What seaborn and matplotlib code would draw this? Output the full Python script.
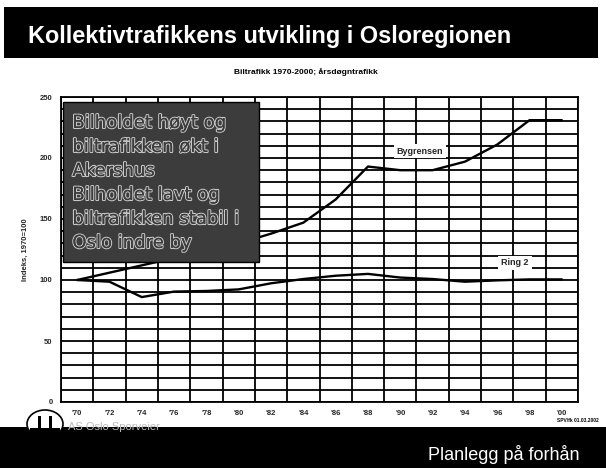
import numpy as np
import pandas as pd
import matplotlib
matplotlib.use("Agg")
import matplotlib.pyplot as plt
import matplotlib.patheffects as pe
from matplotlib.patches import Rectangle, Ellipse
import seaborn as sns

years = ["'70", "'72", "'74", "'76", "'78", "'80", "'82", "'84",
         "'86", "'88", "'90", "'92", "'94", "'96", "'98", "'00"]
bygrensen = [100, 106, 112, 118, 124, 130, 138, 147, 166, 193, 190, 190, 197, 211, 231, 231]
ring2 = [100, 98.6, 86, 90.5, 91, 92.3, 97.3, 100.8, 103.5, 105, 102, 100.8, 98.6, 99.7, 100.5, 100.5]
series_names = ["Bygrensen", "Ring 2"]
yticks = [0, 50, 100, 150, 200, 250]

df = pd.DataFrame({
    "year": years * 2,
    "value": bygrensen + ring2,
    "series": [series_names[0]] * len(years) + [series_names[1]] * len(years),
})

sns.set_theme(style="white")
plt.rcParams["font.family"] = ["Liberation Sans", "DejaVu Sans"]

W, H = 606, 468
fig = plt.figure(figsize=(W / 100, H / 100), dpi=100)
fig.patch.set_facecolor("white")

# top title band
fig.add_artist(Rectangle((4 / W, 1 - 58 / H), 594 / W, 51 / H, transform=fig.transFigure,
                         facecolor="black", edgecolor="none", zorder=0))
fig.text(28 / W, 1 - 37 / H, "Kollektivtrafikkens utvikling i Osloregionen",
         color="white", fontsize=16.9, fontweight="bold", va="center", ha="left")
fig.text(306 / W, 1 - 72 / H, "Biltrafikk 1970-2000; årsdøgntrafikk",
         color="black", fontsize=6, fontweight="bold", va="center", ha="center")

# bottom band
fig.add_artist(Rectangle((0, 0), 1, 41 / H, transform=fig.transFigure,
                         facecolor="black", edgecolor="none", zorder=0))
fig.text(428 / W, 1 - 454 / H, "Planlegg på forhån", color="white", fontsize=13,
         va="center", ha="left")
fig.text(68 / W, 1 - 427 / H, "AS Oslo Sporveier", color="#bbbbbb", fontsize=8,
         va="center", ha="left")
fig.add_artist(Ellipse((45 / W, 1 - 424 / H), 36 / W, 28 / H, transform=fig.transFigure,
                       facecolor="white", edgecolor="black", lw=1.2, zorder=1))
fig.add_artist(Rectangle((30 / W, 1 - 438 / H), 30 / W, 10 / H, transform=fig.transFigure,
                         facecolor="black", edgecolor="none", zorder=2))
fig.add_artist(Rectangle((38 / W, 1 - 428 / H), 3 / W, 12 / H, transform=fig.transFigure,
                         facecolor="black", edgecolor="none", zorder=2))
fig.add_artist(Rectangle((49 / W, 1 - 428 / H), 3 / W, 12 / H, transform=fig.transFigure,
                         facecolor="black", edgecolor="none", zorder=2))
fig.text(557 / W, 1 - 420 / H, "SPV/fk 01.03.2002", color="black", fontsize=3.5,
         fontweight="bold", va="center", ha="left")

ax = fig.add_axes([61 / W, 1 - 402 / H, 517 / W, 305 / H])
sns.lineplot(data=df, x="year", y="value", hue="series", sort=False,
             palette=["black", "black"], linewidth=1.7, legend=False, ax=ax, zorder=3)

ax.set_xlim(-0.5, len(years) - 0.5)
ax.set_ylim(0, 250)
ax.set_xticks(range(len(years)))
ax.set_xticklabels(years, fontsize=5.5, fontweight="bold")
ax.set_xticks(np.arange(-0.5, len(years), 1), minor=True)
ax.set_yticks(yticks)
ax.set_yticklabels([str(v) for v in yticks], fontsize=5.5, fontweight="bold")
ax.set_yticks(np.arange(0, 251, 10), minor=True)
ax.tick_params(axis="x", which="major", length=0, pad=6)
ax.tick_params(axis="x", which="minor", length=3, width=1, color="black", direction="out")
ax.tick_params(axis="y", which="major", length=3, width=1, color="black", pad=3)
ax.tick_params(axis="y", which="minor", length=3, width=1, color="black")
ax.grid(False)
ax.grid(True, axis="x", which="minor", color="black", linewidth=1.3)
ax.grid(True, axis="y", which="both", color="black", linewidth=1.3)
ax.set_axisbelow(True)
for s in ax.spines.values():
    s.set_color("black")
    s.set_linewidth(1.3)
ax.set_xlabel("")
ax.set_ylabel("Indeks, 1970=100", fontsize=5.5, fontweight="bold", labelpad=8)

# series labels
ax.text(10.6, 205.7, series_names[0], fontsize=6.5, fontweight="bold", ha="center", va="center",
        bbox=dict(facecolor="white", edgecolor="none", pad=2), zorder=4)
ax.text(13.55, 114, series_names[1], fontsize=6.5, fontweight="bold", ha="center", va="center",
        bbox=dict(facecolor="white", edgecolor="none", pad=2), zorder=4)

# overlay text box
ax.add_patch(Rectangle((0.004, 0.459), 0.379, 0.525, transform=ax.transAxes,
                       facecolor="#3c3c3c", edgecolor="black", lw=1, zorder=5))
box_lines = ["Bilholdet høyt og", "biltrafikken økt i", "Akershus",
             "Bilholdet lavt og", "biltrafikken stabil i", "Oslo indre by"]
for i, line in enumerate(box_lines):
    t = ax.text(0.022, 0.915 - i * 0.0787, line, transform=ax.transAxes, fontsize=13,
                family="DejaVu Sans", color="#3c3c3c", ha="left", va="center", zorder=6)
    t.set_path_effects([pe.withStroke(linewidth=1.6, foreground="#c8c8c8"), pe.Normal()])

fig.savefig("out.png", dpi=100)
